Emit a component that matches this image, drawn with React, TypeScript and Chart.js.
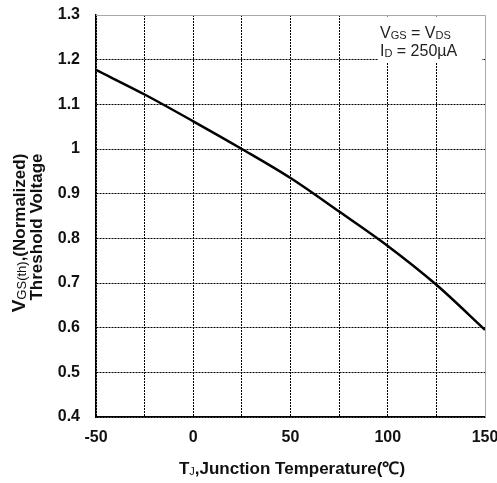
import React, { useEffect, useRef } from "react";
import { Chart, registerables } from "chart.js";

Chart.register(...registerables);

const temperatures = [-50, -25, 0, 25, 50, 75, 100, 125, 150];
const thresholdNorm = [1.177, 1.122, 1.062, 1.0, 0.935, 0.86, 0.783, 0.696, 0.595];
const xLabelValues = [-50, 0, 50, 100, 150];
const yLabelValues = [0.4, 0.5, 0.6, 0.7, 0.8, 0.9, 1, 1.1, 1.2, 1.3];
const yLabelTexts = ["0.4", "0.5", "0.6", "0.7", "0.8", "0.9", "1", "1.1", "1.2", "1.3"];

const FAMILY = '"Liberation Sans", Arial, sans-serif';

type Seg = { t: string; font: string; dy: number };

function drawSegs(ctx: CanvasRenderingContext2D, segs: Seg[], cx: number, cy: number, color: string) {
  let total = 0;
  for (const s of segs) {
    ctx.font = s.font;
    total += ctx.measureText(s.t).width;
  }
  let x = cx - total / 2;
  ctx.fillStyle = color;
  ctx.textBaseline = "alphabetic";
  ctx.textAlign = "left";
  for (const s of segs) {
    ctx.font = s.font;
    ctx.fillText(s.t, x, cy + s.dy);
    x += ctx.measureText(s.t).width;
  }
}

function drawSegsLeft(ctx: CanvasRenderingContext2D, segs: Seg[], lx: number, y: number) {
  let x = lx;
  for (const s of segs) {
    ctx.font = s.font;
    ctx.fillText(s.t, x, y + s.dy);
    x += ctx.measureText(s.t).width;
  }
}

const decorPlugin = {
  id: "decor",
  afterDraw(chart: any) {
    const { ctx, chartArea } = chart;
    const { left, right, top, bottom } = chartArea;
    ctx.save();
    // grey top and right frame
    ctx.strokeStyle = "#a8a8a8";
    ctx.lineWidth = 1;
    ctx.beginPath();
    ctx.moveTo(left, Math.round(top) + 0.5);
    ctx.lineTo(Math.round(right) + 0.5, Math.round(top) + 0.5);
    ctx.lineTo(Math.round(right) + 0.5, bottom);
    ctx.stroke();

    // annotation box
    ctx.fillStyle = "#ffffff";
    ctx.fillRect(378, top + 1.5, right - 378 - 3, 46);
    const reg = `16px ${FAMILY}`;
    const sub = `11px ${FAMILY}`;
    ctx.fillStyle = "#222";
    ctx.textBaseline = "alphabetic";
    ctx.textAlign = "left";
    drawSegsLeft(
      ctx,
      [
        { t: "V", font: reg, dy: 0 },
        { t: "GS", font: sub, dy: 1 },
        { t: " = V", font: reg, dy: 0 },
        { t: "DS", font: sub, dy: 1 },
      ],
      380,
      38
    );
    drawSegsLeft(
      ctx,
      [
        { t: "I", font: reg, dy: 0 },
        { t: "D", font: sub, dy: 1 },
        { t: " = 250µA", font: reg, dy: 0 },
      ],
      380,
      56
    );

    // x axis title
    const bold = `bold 17px ${FAMILY}`;
    drawSegs(
      ctx,
      [
        { t: "T", font: bold, dy: 0 },
        { t: "J", font: `11px ${FAMILY}`, dy: 1 },
        { t: ",Junction Temperature(℃)", font: bold, dy: 0 },
      ],
      292,
      474,
      "#111"
    );

    // y axis title (rotated)
    ctx.save();
    ctx.rotate(-Math.PI / 2);
    drawSegs(
      ctx,
      [
        { t: "V", font: `bold 19px ${FAMILY}`, dy: 0 },
        { t: "GS(th)", font: `13px ${FAMILY}`, dy: 1 },
        { t: ",(Normalized)", font: bold, dy: 0 },
      ],
      -233,
      25,
      "#111"
    );
    drawSegs(ctx, [{ t: "Threshold Voltage", font: bold, dy: 0 }], -227, 42, "#111");
    ctx.restore();
    ctx.restore();
  },
};

export default function App() {
  const ref = useRef<HTMLCanvasElement>(null);
  useEffect(() => {
    if (!ref.current) return;
    const tickFont = { family: FAMILY, size: 16, weight: "bold" as const };
    const chart = new Chart(ref.current, {
      type: "line",
      data: {
        datasets: [
          {
            data: temperatures.map((t, i) => ({ x: t, y: thresholdNorm[i] })),
            borderColor: "#000",
            borderWidth: 2.5,
            pointRadius: 0,
            cubicInterpolationMode: "monotone",
            fill: false,
          },
        ],
      },
      options: {
        animation: false,
        responsive: false,
        devicePixelRatio: 1,
        events: [],
        layout: { padding: { top: 15, right: 12, left: 0, bottom: 0 } },
        plugins: { legend: { display: false }, tooltip: { enabled: false } },
        scales: {
          x: {
            type: "linear",
            min: -50,
            max: 150,
            afterFit: (s: any) => {
              s.height = 66;
              s.paddingLeft = 0;
              s.paddingRight = 0;
            },
            ticks: {
              stepSize: 25,
              autoSkip: false,
              maxRotation: 0,
              padding: 11,
              color: "#111",
              font: tickFont,
              callback: (v: any) => (xLabelValues.includes(Number(v)) ? String(v) : ""),
            },
            grid: {
              drawTicks: false,
              color: (c: any) => (c.tick && c.tick.value === 150 ? "rgba(0,0,0,0)" : "#000"),
              lineWidth: 1,
            },
            border: { display: true, color: "#000", width: 1.5, dash: [2, 1] },
          },
          y: {
            type: "linear",
            min: 0.4,
            max: 1.3,
            afterFit: (s: any) => {
              s.width = 96;
              s.paddingTop = 0;
              s.paddingBottom = 0;
            },
            ticks: {
              stepSize: 0.1,
              autoSkip: false,
              padding: 16,
              color: "#111",
              font: tickFont,
              callback: (v: any) => {
                const r = Math.round(Number(v) * 10) / 10;
                const idx = yLabelValues.findIndex((a) => Math.abs(a - r) < 1e-6);
                return idx >= 0 ? yLabelTexts[idx] : "";
              },
            },
            grid: {
              drawTicks: false,
              color: (c: any) =>
                c.tick && Math.abs(c.tick.value - 1.3) < 1e-6 ? "rgba(0,0,0,0)" : "#000",
              lineWidth: 1,
            },
            border: { display: true, color: "#000", width: 1.5, dash: [2, 1] },
          },
        },
      },
      plugins: [decorPlugin],
    });
    return () => chart.destroy();
  }, []);
  return (
    <div style={{ position: "absolute", left: 0, top: 0, width: 497, height: 483, background: "#fff" }}>
      <canvas ref={ref} width={497} height={483} />
    </div>
  );
}
